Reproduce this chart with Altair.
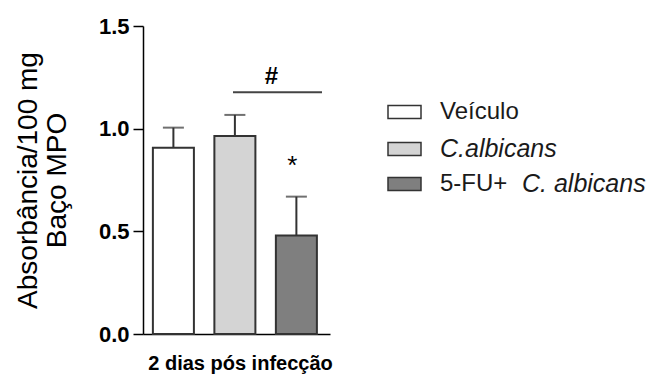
import altair as alt
import pandas as pd

# ---- data ----
categories = ["Veículo", "C.albicans", "5-FU+ C. albicans"]
means = [0.907, 0.964, 0.480]
sems = [0.098, 0.103, 0.189]
fills = ["#ffffff", "#d4d4d4", "#7f7f7f"]
y_ticks = [0.0, 0.5, 1.0, 1.5]
sig_line_y = [1.177]
sig_text_y = [1.252]
star_y = [0.82]
legend_parts = [
    [("Veículo", "normal")],
    [("C.albicans", "italic")],
    [("5-FU+", "normal"), ("C. albicans", "italic")],
]

FONT = "Liberation Sans"
INK = "#333333"
W, H = 187, 308

df = pd.DataFrame({"grupo": categories, "media": means, "sem": sems, "cor": fills})
df["topo"] = df["media"] + df["sem"]

yscale = alt.Scale(domain=[0, 1.5], nice=False)
xscale = alt.Scale(paddingInner=0.333, paddingOuter=0.187, align=0.43)
xaxis = alt.Axis(
    title="2 dias pós infecção", labels=False, ticks=False,
    domainColor="#000000", domainWidth=1.5,
    titleFont=FONT, titleFontSize=20, titleFontWeight="bold", titleColor="#000000",
    titleX=97, titleY=35, titleBaseline="alphabetic", titleAlign="center",
)
xenc = alt.X("grupo:N", sort=categories, scale=xscale, axis=xaxis)

yaxis = alt.Axis(
    values=y_ticks, format=".1f", grid=False,
    title=["Absorbância/100 mg", "Baço MPO"],
    domainColor="#000000", domainWidth=1.5, tickColor="#000000", tickWidth=1.5, tickSize=10,
    labelFont=FONT, labelFontSize=22, labelFontWeight="bold", labelColor="#000000", labelPadding=4,
    titleFont=FONT, titleFontSize=28, titleFontWeight="normal", titleColor="#000000",
    titleX=-115, titleY=154, titleBaseline="middle", titleAlign="center", titleAngle=270,
    titleLineHeight=29,
)

base = alt.Chart(df)

bars = base.mark_bar(stroke=INK, strokeWidth=2).encode(
    x=xenc, y=alt.Y("media:Q", scale=yscale, axis=yaxis),
    fill=alt.Fill("cor:N", scale=None))
whisker = base.mark_rule(color=INK, strokeWidth=2).encode(
    x=xenc, y=alt.Y("media:Q", scale=yscale, axis=yaxis), y2="topo:Q")
cap = base.mark_tick(color=INK, thickness=2, size=21, orient="horizontal").encode(
    x=xenc, y=alt.Y("topo:Q", scale=yscale, axis=yaxis))

sig_line = alt.Chart(pd.DataFrame({"v": sig_line_y})).mark_rule(color="#444444", strokeWidth=2).encode(
    x=alt.value(90), x2=alt.value(179), y=alt.Y("v:Q", scale=yscale, axis=yaxis))
sig_text = alt.Chart(pd.DataFrame({"v": sig_text_y, "t": ["#"]})).mark_text(
    font=FONT, fontSize=24, fontWeight="bold", color="#000000", baseline="middle").encode(
    x=alt.value(128.5), y=alt.Y("v:Q", scale=yscale, axis=yaxis), text="t:N")
star = alt.Chart(pd.DataFrame({"v": star_y, "t": ["*"], "grupo": [categories[2]]})).mark_text(
    font=FONT, fontSize=26, color="#000000", baseline="middle", dx=-4).encode(
    x=xenc, y=alt.Y("v:Q", scale=yscale, axis=yaxis), text="t:N")

layers = [bars, whisker, cap, sig_line, sig_text, star]

row_y = [86, 123, 158]
text_x = [[297], [297], [297, 379]]
for i, (cat, col) in enumerate(zip(categories, fills)):
    layers.append(
        alt.Chart(pd.DataFrame({"g": [cat]})).mark_rect(fill=col, stroke=INK, strokeWidth=1.5).encode(
            x=alt.value(245), x2=alt.value(278),
            y=alt.value(row_y[i] - 6.5), y2=alt.value(row_y[i] + 6.5))
    )
    for (txt, style), tx in zip(legend_parts[i], text_x[i]):
        layers.append(
            alt.Chart(pd.DataFrame({"t": [txt]})).mark_text(
                font=FONT, fontSize=(25 if style == "italic" else 24), fontStyle=style,
                color="#1a1a1a", align="left", baseline="middle").encode(
                x=alt.value(tx), y=alt.value(row_y[i]), text="t:N")
        )

chart = alt.layer(*layers).properties(
    width=W, height=H,
    autosize=alt.AutoSizeParams(type="none"),
    padding={"left": 143, "top": 26, "right": 321, "bottom": 40},
    background="#ffffff",
).configure_view(stroke=None)

chart.save("out.html", embed_options={"renderer": "svg", "actions": False})
